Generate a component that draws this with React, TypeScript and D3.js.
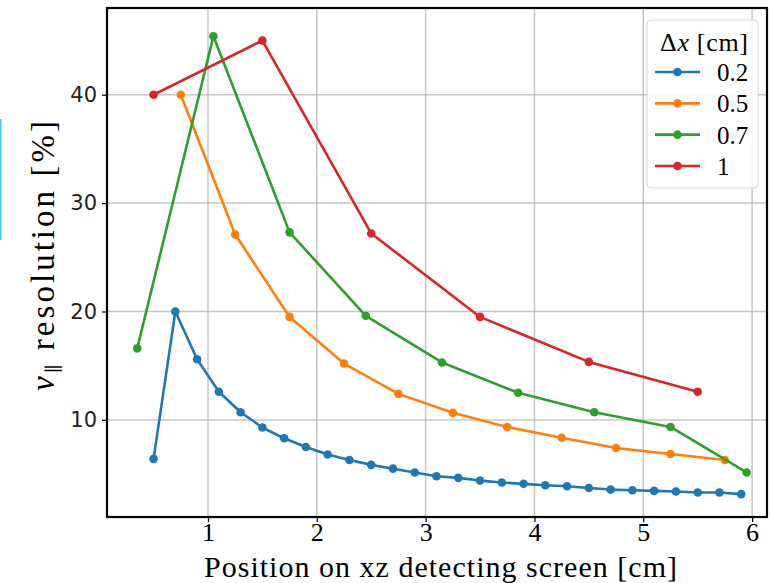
import React, { useEffect, useRef } from 'react';
import * as d3 from 'd3';

// Δx = 0.2 cm
const x02 = [0.5, 0.7, 0.9, 1.1, 1.3, 1.5, 1.7, 1.9, 2.1, 2.3, 2.5, 2.7, 2.9, 3.1, 3.3, 3.5, 3.7, 3.9, 4.1, 4.3, 4.5, 4.7, 4.9, 5.1, 5.3, 5.5, 5.7, 5.9];
const y02 = [6.4, 20.0, 15.6, 12.6, 10.7, 9.3, 8.3, 7.5, 6.8, 6.3, 5.85, 5.5, 5.15, 4.8, 4.65, 4.4, 4.22, 4.1, 3.97, 3.88, 3.72, 3.57, 3.51, 3.45, 3.39, 3.3, 3.3, 3.15];
// Δx = 0.5 cm
const x05 = [0.75, 1.25, 1.75, 2.25, 2.75, 3.25, 3.75, 4.25, 4.75, 5.25, 5.75];
const y05 = [40.0, 27.1, 19.5, 15.2, 12.4, 10.65, 9.35, 8.35, 7.4, 6.85, 6.3];
// Δx = 0.7 cm
const x07 = [0.35, 1.05, 1.75, 2.45, 3.15, 3.85, 4.55, 5.25, 5.95];
const y07 = [16.6, 45.4, 27.3, 19.6, 15.3, 12.5, 10.7, 9.35, 5.15];
// Δx = 1 cm
const x10 = [0.5, 1.5, 2.5, 3.5, 4.5, 5.5];
const y10 = [40.0, 45.0, 27.2, 19.5, 15.35, 12.6];

const seriesNames = ['0.2', '0.5', '0.7', '1'];
const colors = ['#1f77b4', '#ff7f0e', '#2ca02c', '#d62728'];
const xTicks = [1, 2, 3, 4, 5, 6];
const yTicks = [10, 20, 30, 40];

const App = () => {
  const svgRef = useRef<SVGSVGElement>(null);

  useEffect(() => {
    const width = 772;
    const height = 583;
    const margin = { top: 8, right: 5, bottom: 66, left: 107 };
    const serif = '"Liberation Serif", "DejaVu Serif", serif';
    const sans = '"DejaVu Sans", sans-serif';

    const svg = d3.select(svgRef.current);
    svg.selectAll('*').remove();
    svg.attr('width', width).attr('height', height).attr('viewBox', `0 0 ${width} ${height}`);

    svg.append('rect').attr('width', width).attr('height', height).attr('fill', 'white');

    const x = d3.scaleLinear().domain([0.072, 6.137]).range([margin.left, width - margin.right]);
    const y = d3.scaleLinear().domain([1.04, 48.0]).range([height - margin.bottom, margin.top]);

    // grid
    svg.append('g')
      .selectAll('line')
      .data(xTicks)
      .join('line')
      .attr('x1', d => x(d)).attr('x2', d => x(d))
      .attr('y1', margin.top).attr('y2', height - margin.bottom)
      .attr('stroke', '#b0b0b0').attr('stroke-width', 1.5).attr('opacity', 0.7);
    svg.append('g')
      .selectAll('line')
      .data(yTicks)
      .join('line')
      .attr('x1', margin.left).attr('x2', width - margin.right)
      .attr('y1', d => y(d)).attr('y2', d => y(d))
      .attr('stroke', '#b0b0b0').attr('stroke-width', 1.5).attr('opacity', 0.7);

    // series
    const data = [
      x02.map((v, i) => [v, y02[i]]),
      x05.map((v, i) => [v, y05[i]]),
      x07.map((v, i) => [v, y07[i]]),
      x10.map((v, i) => [v, y10[i]]),
    ];
    const line = d3.line<number[]>().x(d => x(d[0])).y(d => y(d[1]));

    data.forEach((pts, k) => {
      const g = svg.append('g');
      g.append('path')
        .attr('d', line(pts))
        .attr('fill', 'none')
        .attr('stroke', colors[k])
        .attr('stroke-width', 2.6)
        .attr('stroke-linejoin', 'round');
      g.selectAll('circle')
        .data(pts)
        .join('circle')
        .attr('cx', d => x(d[0]))
        .attr('cy', d => y(d[1]))
        .attr('r', 4.3)
        .attr('fill', colors[k]);
    });

    // x axis
    const xAxis = d3.axisBottom(x).tickValues(xTicks).tickSize(5).tickPadding(0).tickFormat(d3.format('d'));
    const gx = svg.append('g')
      .attr('transform', `translate(0,${height - margin.bottom})`)
      .call(xAxis);
    gx.select('.domain').remove();
    gx.selectAll('line').attr('stroke', 'black').attr('stroke-width', 1.2);
    gx.selectAll('text').attr('font-family', serif).attr('font-size', 26).attr('fill', 'black').attr('dy', '0.72em');

    // y axis
    const yAxis = d3.axisLeft(y).tickValues(yTicks).tickSize(5).tickPadding(5);
    const gy = svg.append('g')
      .attr('transform', `translate(${margin.left},0)`)
      .call(yAxis);
    gy.select('.domain').remove();
    gy.selectAll('line').attr('stroke', 'black').attr('stroke-width', 1.2);
    gy.selectAll('text').attr('font-family', sans).attr('font-size', 21).attr('fill', '#222');

    // frame
    svg.append('rect')
      .attr('x', margin.left).attr('y', margin.top)
      .attr('width', width - margin.left - margin.right)
      .attr('height', height - margin.top - margin.bottom)
      .attr('fill', 'none').attr('stroke', 'black').attr('stroke-width', 2.2);

    // axis labels
    svg.append('text')
      .attr('x', 204)
      .attr('y', 577)
      .attr('font-family', serif)
      .attr('font-size', 30)
      .attr('textLength', 473)
      .attr('lengthAdjust', 'spacing')
      .text('Position on xz detecting screen [cm]');

    const yl = svg.append('text')
      .attr('transform', 'rotate(-90)')
      .attr('x', -391)
      .attr('y', 54)
      .attr('font-family', serif)
      .attr('font-size', 33)
      .attr('textLength', 270)
      .attr('lengthAdjust', 'spacing');
    yl.append('tspan').attr('font-style', 'italic').text('v');
    yl.append('tspan').attr('font-size', 19).attr('dy', 6).text('∥');
    yl.append('tspan').attr('dy', -6).text(' resolution [%]');

    // legend
    const lg = svg.append('g');
    lg.append('rect')
      .attr('x', 647).attr('y', 20).attr('width', 111).attr('height', 168).attr('rx', 4)
      .attr('fill', 'white').attr('fill-opacity', 0.85)
      .attr('stroke', '#d6d6d6').attr('stroke-width', 1);
    const title = lg.append('text')
      .attr('x', 660).attr('y', 51)
      .attr('font-family', serif)
      .attr('font-size', 26)
      .attr('textLength', 88)
      .attr('lengthAdjust', 'spacing');
    title.append('tspan').text('Δ');
    title.append('tspan').attr('font-style', 'italic').text('x');
    title.append('tspan').text(' [cm]');

    const rowY = d3.scaleLinear().domain([0, 3]).range([72, 166]);
    seriesNames.forEach((name, k) => {
      const yy = rowY(k);
      lg.append('line')
        .attr('x1', 655).attr('x2', 700).attr('y1', yy).attr('y2', yy)
        .attr('stroke', colors[k]).attr('stroke-width', 2.6);
      lg.append('circle').attr('cx', 677.5).attr('cy', yy).attr('r', 4.3).attr('fill', colors[k]);
      lg.append('text')
        .attr('x', 717).attr('y', yy + 9)
        .attr('font-family', serif)
        .attr('font-size', 25)
        .text(name);
    });

    // thin highlight at the left edge of the screenshot
    svg.append('rect')
      .attr('x', 0).attr('y', 119).attr('width', 1.5).attr('height', 121)
      .attr('fill', '#4fc3f7');
  }, []);

  return (
    <svg ref={svgRef} style={{ position: 'absolute', left: 0, top: 0, display: 'block' }}></svg>
  );
};

export default App;
